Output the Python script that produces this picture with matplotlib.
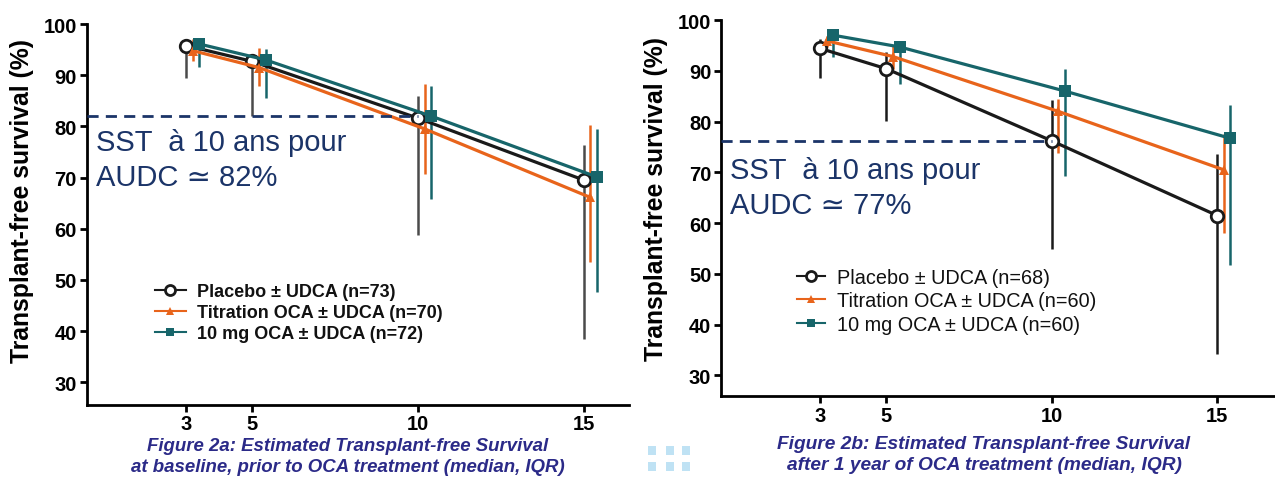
import matplotlib
matplotlib.use("Agg")
import matplotlib.pyplot as plt
from matplotlib.lines import Line2D
from matplotlib.patches import Rectangle

# ---------------- data ----------------
years = [3, 5, 10, 15]
xtick_labels = ["3", "5", "10", "15"]
yticks = [30, 40, 50, 60, 70, 80, 90, 100]

# Figure 2a (baseline)
a_placebo = [95.8, 92.7, 81.6, 69.5]
a_placebo_lo = [89.5, 82.1, 58.7, 38.5]
a_placebo_hi = [96.8, 93.5, 85.9, 76.4]
a_titr = [94.8, 91.5, 79.5, 66.1]
a_titr_lo = [92.8, 87.8, 70.6, 53.5]
a_titr_hi = [97.1, 95.4, 88.3, 80.3]
a_10mg = [96.1, 93.0, 82.0, 70.1]
a_10mg_lo = [91.7, 85.5, 65.8, 47.6]
a_10mg_hi = [96.7, 95.2, 87.8, 79.5]
a_labels = ["Placebo \u00b1 UDCA (n=73)", "Titration OCA \u00b1 UDCA (n=70)", "10 mg OCA \u00b1 UDCA (n=72)"]
a_ref = 82.0
a_text = ["SST  \u00e0 10 ans pour", "AUDC \u2243 82%"]
a_caption = ["Figure 2a: Estimated Transplant-free Survival",
             "at baseline, prior to OCA treatment (median, IQR)"]

# Figure 2b (after 1 year)
b_placebo = [94.4, 90.4, 76.2, 61.5]
b_placebo_lo = [88.5, 80.1, 55.0, 34.3]
b_placebo_hi = [96.3, 93.7, 84.3, 73.6]
b_titr = [95.9, 92.8, 82.0, 70.5]
b_titr_lo = [94.6, 90.3, 73.8, 58.0]
b_titr_hi = [96.9, 95.0, 84.4, 77.5]
b_10mg = [97.0, 94.7, 86.0, 76.7]
b_10mg_lo = [92.8, 87.4, 69.3, 51.8]
b_10mg_hi = [97.5, 95.7, 90.3, 83.2]
b_labels = ["Placebo \u00b1 UDCA (n=68)", "Titration OCA \u00b1 UDCA (n=60)", "10 mg OCA \u00b1 UDCA (n=60)"]
b_ref = 76.2
b_text = ["SST  \u00e0 10 ans pour", "AUDC \u2243 77%"]
b_caption = ["Figure 2b: Estimated Transplant-free Survival",
             "after 1 year of OCA treatment (median, IQR)"]

# horizontal nudges of the groups (as in the original plot)
nudge = [0.0, 0.2, 0.4]

# ---------------- style ----------------
C_PLA = "#1a1a1a"
C_PLA_ERR_A = "#4a4a4a"
C_TIT = "#e8641b"
C_10 = "#17656a"
NAVY = "#1b3468"
CAP = "#2b2a88"
FONT = ["Liberation Sans", "DejaVu Sans"]
plt.rcParams["font.family"] = FONT

W, H = 1275, 481
fig = plt.figure(figsize=(W / 100, H / 100), dpi=100)


def fx(px):
    return px / W


def fy(py):
    return 1 - py / H


def panel(rect, xlim, ylim, series, labels, ref, texts, text_xy, caption, cap_xy, cap_size,
          leg_xy, leg_size, bold_leg, pla_err_color, hlen):
    ax = fig.add_axes(rect)
    ax.set_xlim(*xlim)
    ax.set_ylim(*ylim)
    for s in ["top", "right"]:
        ax.spines[s].set_visible(False)
    for s in ["left", "bottom"]:
        ax.spines[s].set_linewidth(2.0)
    ax.spines["left"].set_bounds(ylim[0], 100)
    ax.set_xticks(years)
    ax.set_xticklabels(xtick_labels)
    ax.set_yticks(yticks)
    ax.tick_params(axis="both", direction="out", length=5, width=2, labelsize=14.5, pad=2)
    for t in ax.get_xticklabels() + ax.get_yticklabels():
        t.set_fontweight("bold")
    ax.set_ylabel("Transplant-free survival (%)", fontsize=17.8, fontweight="bold")

    handles = []
    order = [2, 1, 0]
    styles = {
        0: dict(color=C_PLA, marker="o", ms=9, mfc="white", mec=C_PLA, mew=2.0),
        1: dict(color=C_TIT, marker="^", ms=7, mfc=C_TIT, mec=C_TIT, mew=0),
        2: dict(color=C_10, marker="s", ms=8, mfc=C_10, mec=C_10, mew=0),
    }
    for i in order:
        vals, lo, hi = series[i]
        xs = [x + nudge[i] for x in years]
        ecol = pla_err_color if i == 0 else styles[i]["color"]
        ax.vlines(xs, lo, hi, color=ecol, lw=1.8, zorder=2 + i)
        ax.plot(xs, vals, lw=2.3, zorder=5 + i, **styles[i])
    for i in range(3):
        handles.append(Line2D([], [], lw=1.5,
                              **{k: (v * 0.8 if k == "ms" else v) for k, v in styles[i].items()}))

    ax.plot([xlim[0], 10], [ref, ref], ls=(0, (4, 2.6)), color=NAVY, lw=2.0, zorder=10,
            clip_on=False)

    fig.text(fx(text_xy[0]), fy(text_xy[1]), texts[0], fontsize=21, color=NAVY,
             family=FONT, va="baseline", ha="left")
    fig.text(fx(text_xy[0]), fy(text_xy[1] + 35), texts[1], fontsize=21, color=NAVY,
             family=FONT, va="baseline", ha="left")

    leg = fig.legend(handles, labels, loc="upper left", bbox_to_anchor=(fx(leg_xy[0]), fy(leg_xy[1])),
                     frameon=False, borderpad=0, borderaxespad=0, handlelength=hlen,
                     handletextpad=0.6, labelspacing=0.22,
                     prop=dict(family=FONT, size=leg_size, weight="bold" if bold_leg else "normal"))
    for t in leg.get_texts():
        t.set_color("#111111")

    fig.text(fx(cap_xy[0]), fy(cap_xy[1]), caption[0], fontsize=cap_size, style="italic",
             fontweight="bold", color=CAP, ha="center", va="center")
    fig.text(fx(cap_xy[0]), fy(cap_xy[1] + 21), caption[1], fontsize=cap_size, style="italic",
             fontweight="bold", color=CAP, ha="center", va="center")
    return ax


ax1 = panel([fx(86.5), fy(405.7), fx(628.6 - 86.5), (405.7 - 23.5) / H],
            (0, 16.35), (25.6, 100.3),
            [(a_placebo, a_placebo_lo, a_placebo_hi), (a_titr, a_titr_lo, a_titr_hi),
             (a_10mg, a_10mg_lo, a_10mg_hi)],
            a_labels, a_ref, a_text, (96, 151), a_caption, (348, 447), 13.4,
            (155, 284), 13, True, C_PLA_ERR_A, 1.7)
ax1.yaxis.set_label_coords(-0.097, 0.536)

ax2 = panel([fx(721), fy(397.3), fx(W - 721), (397.3 - 20.5) / H],
            (0, 16.75), (25.9, 100.1),
            [(b_placebo, b_placebo_lo, b_placebo_hi), (b_titr, b_titr_lo, b_titr_hi),
             (b_10mg, b_10mg_lo, b_10mg_hi)],
            b_labels, b_ref, b_text, (730, 179), b_caption, (984, 445), 13.8,
            (797, 269), 14.3, False, C_PLA, 1.4)
ax2.yaxis.set_label_coords(-0.0957, 0.525)

# decorative light-blue squares at the bottom middle
sq_x = [648, 666, 682]
sq_y = [447, 463]
for px in sq_x:
    for py in sq_y:
        fig.patches.append(Rectangle((fx(px), fy(py + 9)), 8 / W, 9 / H, transform=fig.transFigure,
                                     facecolor="#bfe2f4", edgecolor="none"))

fig.savefig("out.png", dpi=100)
